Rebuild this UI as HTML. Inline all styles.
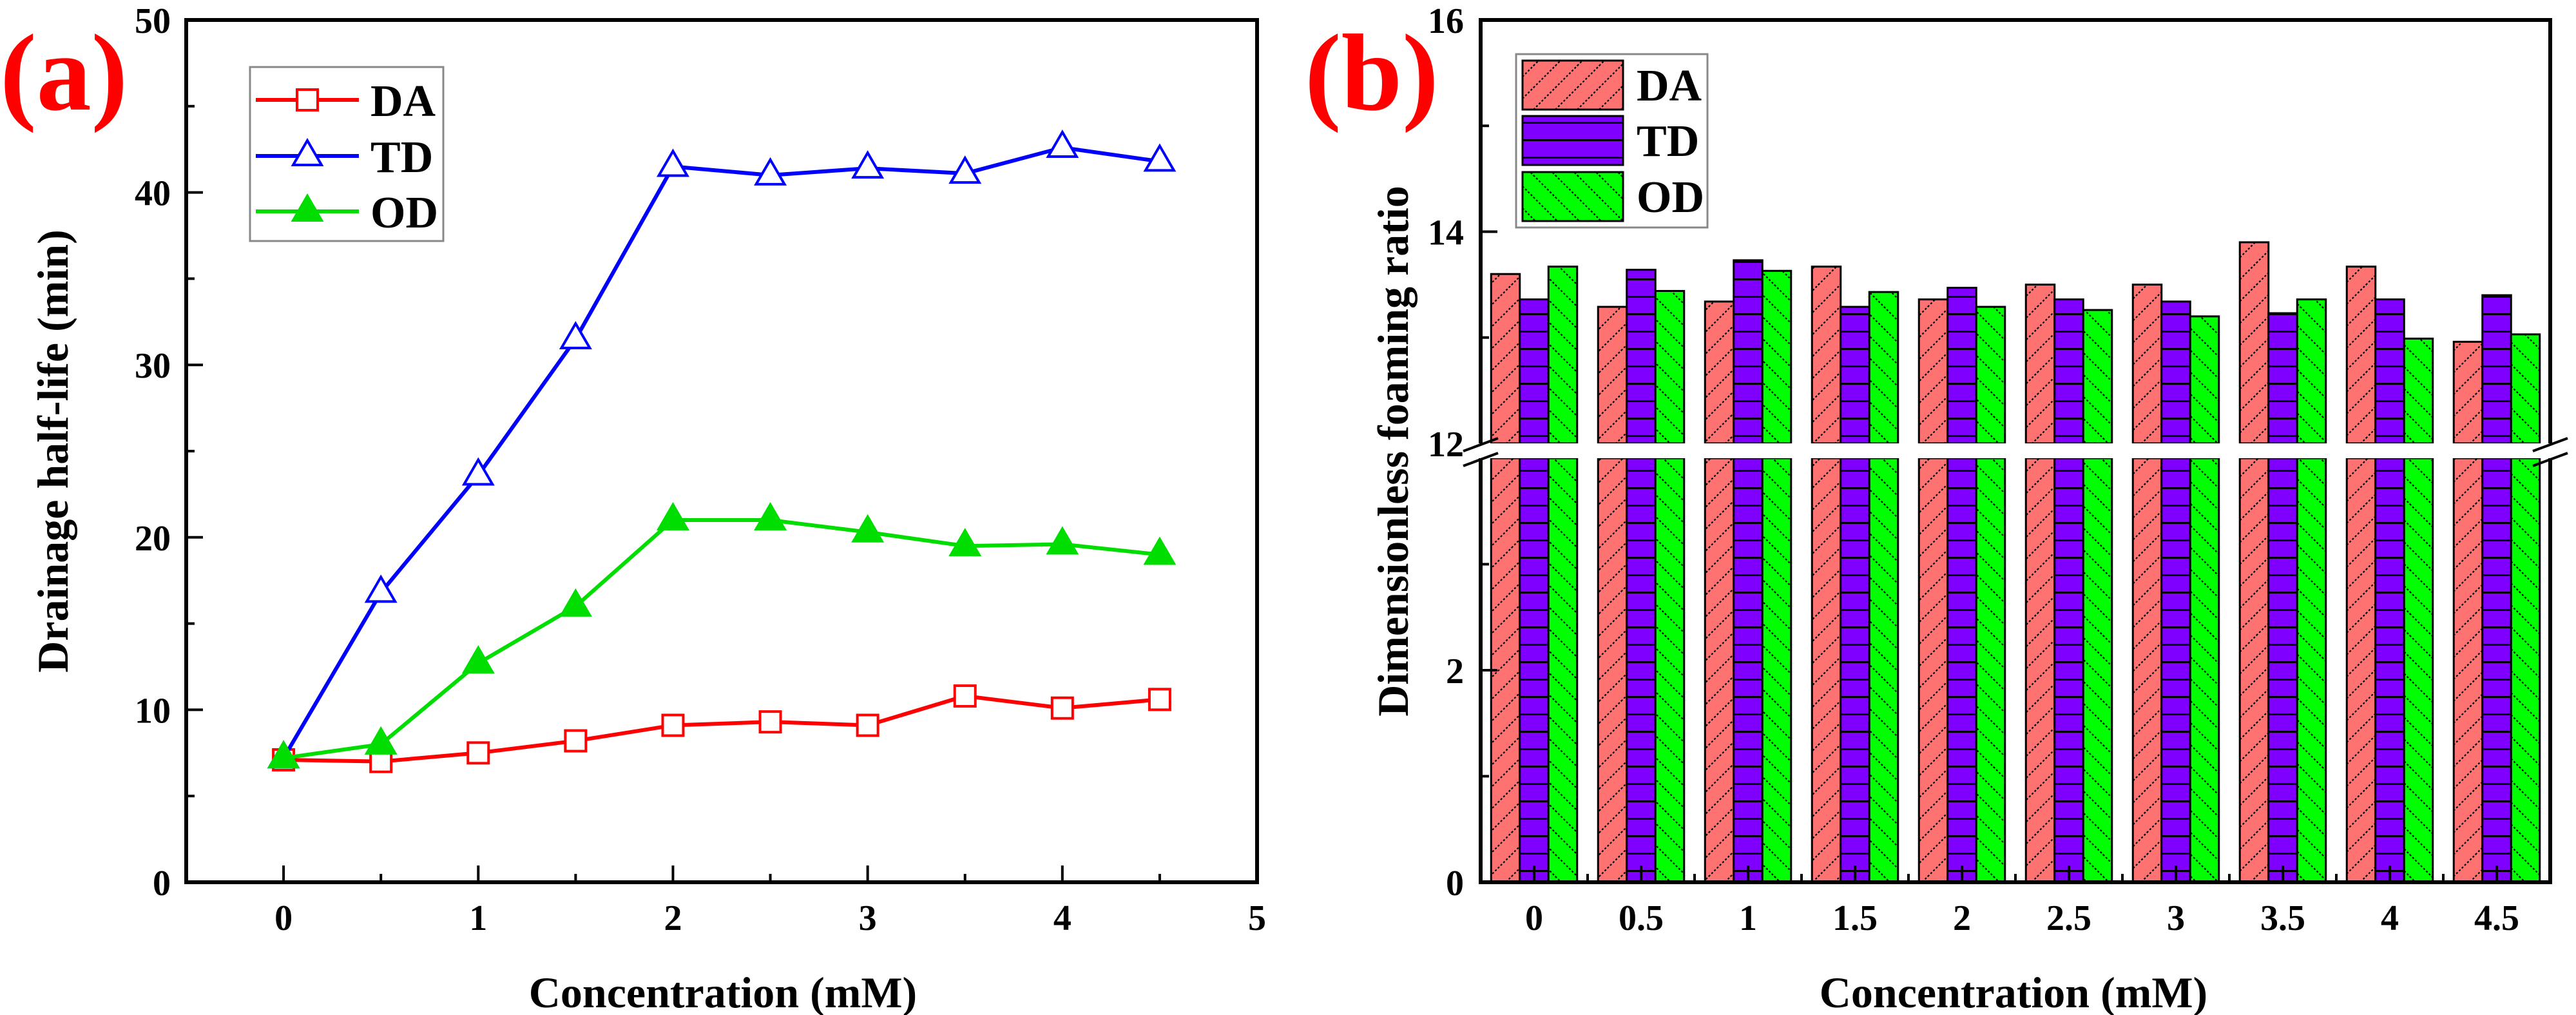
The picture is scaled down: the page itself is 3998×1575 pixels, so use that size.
<!DOCTYPE html>
<html><head><meta charset="utf-8"><style>
html,body{margin:0;padding:0;background:#fff;}
svg{display:block;font-family:"Liberation Serif",serif;font-weight:bold;}
</style></head><body>
<svg id="fig" width="3998" height="1575" viewBox="0 0 3998 1575" xmlns="http://www.w3.org/2000/svg">
<defs>
<pattern id="pDA" patternUnits="userSpaceOnUse" width="34" height="34"><rect width="34" height="34" fill="#ff7272"/><path d="M0 34 L34 0 M-10 10 L10 -10 M24 44 L44 24" stroke="#000" stroke-width="2.2" stroke-dasharray="3 3"/></pattern>
<pattern id="pTD" patternUnits="userSpaceOnUse" width="40" height="27"><rect width="40" height="27" fill="#8000ff"/><line x1="0" y1="1.5" x2="40" y2="1.5" stroke="#000" stroke-width="3"/></pattern>
<pattern id="pOD" patternUnits="userSpaceOnUse" width="34" height="34"><rect width="34" height="34" fill="#00ff00"/><path d="M0 0 L34 34 M-10 24 L10 44 M24 -10 L44 10" stroke="#000" stroke-width="2.2" stroke-dasharray="3 3"/></pattern>
</defs>
<g id="a"></g>
<g id="b"></g>
</svg>
<script>
const NS="http://www.w3.org/2000/svg";
// Panel (a) data
const concA=[0,0.5,1,1.5,2,2.5,3,3.5,4,4.5];
const daA=[7.1,7.0,7.5,8.2,9.1,9.3,9.1,10.8,10.1,10.6];
const tdA=[7.2,16.8,23.6,31.5,41.5,41.0,41.4,41.1,42.6,41.8];
const odA=[7.2,8.0,12.7,16.0,21.0,21.0,20.3,19.5,19.6,19.0];
const xTicksA=[0,1,2,3,4,5];
const yTicksA=[0,10,20,30,40,50];
// Panel (b) data
const catsB=["0","0.5","1","1.5","2","2.5","3","3.5","4","4.5"];
const daB=[13.60,13.29,13.34,13.67,13.36,13.50,13.50,13.90,13.67,12.96];
const tdB=[13.36,13.64,13.73,13.29,13.47,13.36,13.34,13.23,13.36,13.40];
const odB=[13.67,13.44,13.63,13.43,13.29,13.26,13.20,13.36,12.99,13.03];
const yTicksBLow=[0,2];
const yTicksBHigh=[12,14,16];

function el(tag,attrs,parent,txt){const e=document.createElementNS(NS,tag);for(const k in attrs)e.setAttribute(k,attrs[k]);if(txt!==undefined)e.textContent=txt;parent.appendChild(e);return e;}

// ---------- Panel A ----------
const A=document.getElementById('a');
const aL=289,aR=1951,aT=31,aB=1369;
const xa=v=>aL+(v+0.5)/5.5*(aR-aL);
const ya=v=>aB-v/50*(aB-aT);
let t=el('text',{x:0,y:170,'font-size':170,fill:'#f00'},A,'(a)');

for(let v=0;v<=4.5;v+=0.5){const maj=Number.isInteger(v);el('line',{x1:xa(v),x2:xa(v),y1:aB,y2:aB-(maj?26:13),stroke:'#000','stroke-width':4},A);}
for(let v=5;v<50;v+=5){const maj=v%10===0;el('line',{x1:aL,x2:aL+(maj?26:13),y1:ya(v),y2:ya(v),stroke:'#000','stroke-width':4},A);}
xTicksA.forEach(v=>{const e=el('text',{x:xa(v),y:1443,'font-size':56,'text-anchor':'middle'},A,String(v));});
yTicksA.forEach(v=>{const e=el('text',{x:265,y:ya(v)+20,'font-size':56,'text-anchor':'end'},A,String(v));});
t=el('text',{x:1122,y:1563,'font-size':68,'text-anchor':'middle'},A,'Concentration (mM)');

t=el('text',{x:0,y:0,'font-size':68,'text-anchor':'middle',transform:'translate(105,700) rotate(-90)'},A,'Drainage half-life (min)');


function sq(x,y,c,p){return el('rect',{x:x-16,y:y-16,width:32,height:32,fill:'#fff',stroke:c,'stroke-width':4},p);}
function tri(x,y,c,fill,p){return el('polygon',{points:`${x},${y-24} ${x-22},${y+14} ${x+22},${y+14}`,fill:fill,stroke:c,'stroke-width':4},p);}
const seriesA=[{n:'DA',d:daA,c:'#ff0000',m:'sq'},{n:'TD',d:tdA,c:'#0000ff',m:'to'},{n:'OD',d:odA,c:'#00dd00',m:'tf'}];
seriesA.forEach(s=>{
  const g=el('g',{},A);
  
  const pts=s.d.map((v,i)=>xa(concA[i])+','+ya(v)).join(' ');
  el('polyline',{points:pts,fill:'none',stroke:s.c,'stroke-width':6},g);
  s.d.forEach((v,i)=>{const x=xa(concA[i]),y=ya(v);let m;
    if(s.m==='sq')m=sq(x,y,s.c,g);else if(s.m==='to')m=tri(x,y,s.c,'#fff',g);else m=tri(x,y,'#00dd00','#00dd00',g);
    });
});
el('rect',{x:aL,y:aT,width:aR-aL,height:aB-aT,fill:'none',stroke:'#000','stroke-width':6},A);
const lgA=el('g',{},A);
el('rect',{x:388,y:104,width:300,height:270,fill:'#fff',stroke:'#888','stroke-width':3},lgA);
[155,242,328].forEach((y,i)=>{const s=seriesA[i];
  const g=el('g',{},lgA);
  el('line',{x1:397,x2:557,y1:y,y2:y,stroke:s.c,'stroke-width':6},g);
  if(s.m==='sq')sq(477,y,s.c,g);else if(s.m==='to')tri(477,y,s.c,'#fff',g);else tri(477,y,'#00dd00','#00dd00',g);
  el('text',{x:575,y:y+25,'font-size':70},g,s.n);
});

// ---------- Panel B ----------
const B=document.getElementById('b');
const bL=2298,bR=3958,bT=31,bB=1369,gTop=688,gBot=711;
const xb=i=>bL+(i+0.5)*166;
const yLow=v=>bB-v/4*(bB-gBot);
const yHigh=v=>gTop-(v-12)/4*(gTop-bT);
t=el('text',{x:2025,y:170,'font-size':170,fill:'#f00'},B,'(b)');

const seriesB=[{n:'DA',d:daB,f:'url(#pDA)'},{n:'TD',d:tdB,f:'url(#pTD)'},{n:'OD',d:odB,f:'url(#pOD)'}];
const bw=44.5;
catsB.forEach((c,i)=>{
  seriesB.forEach((s,k)=>{
    const x=xb(i)+(k-1.5)*bw;
    const g=el('g',{},B);
    
    
    el('rect',{x:x,y:gBot,width:bw,height:bB-gBot,fill:s.f,stroke:'#000','stroke-width':3},g);
    el('rect',{x:x,y:yHigh(s.d[i]),width:bw,height:gTop-yHigh(s.d[i]),fill:s.f,stroke:'#000','stroke-width':3},g);
  });
});
// gap band
el('rect',{x:bL-4,y:gTop,width:bR-bL+8,height:gBot-gTop,fill:'#fff'},B);
// axes frame (broken)
el('path',{d:`M${bL},${gTop} L${bL},${bT} L${bR},${bT} L${bR},${gTop} M${bL},${gBot} L${bL},${bB} L${bR},${bB} L${bR},${gBot}`,fill:'none',stroke:'#000','stroke-width':6},B);
[bL,bR].forEach(x=>{el('line',{x1:x-27,y1:gTop+12,x2:x+27,y2:gTop-8,stroke:'#000','stroke-width':4},B);el('line',{x1:x-27,y1:gBot+12,x2:x+27,y2:gBot-8,stroke:'#000','stroke-width':4},B);});
// ticks
catsB.forEach((c,i)=>{el('line',{x1:xb(i),x2:xb(i),y1:bB,y2:bB-26,stroke:'#000','stroke-width':4},B);el('line',{x1:xb(i)+83,x2:xb(i)+83,y1:bB,y2:bB-13,stroke:'#000','stroke-width':4},B);});
[1,2,3].forEach(v=>el('line',{x1:bL,x2:bL+(v%2?13:26),y1:yLow(v),y2:yLow(v),stroke:'#000','stroke-width':4},B));
[13,14,15].forEach(v=>el('line',{x1:bL,x2:bL+(v%2?13:26),y1:yHigh(v),y2:yHigh(v),stroke:'#000','stroke-width':4},B));
yTicksBLow.forEach(v=>{const e=el('text',{x:2272,y:yLow(v)+20,'font-size':56,'text-anchor':'end'},B,String(v));});
yTicksBHigh.forEach(v=>{const e=el('text',{x:2272,y:yHigh(v)+20,'font-size':56,'text-anchor':'end'},B,String(v));});
catsB.forEach((c,i)=>{const e=el('text',{x:xb(i),y:1443,'font-size':56,'text-anchor':'middle'},B,c);});
t=el('text',{x:3125,y:1563,'font-size':68,'text-anchor':'middle'},B,'Concentration (mM)');

t=el('text',{x:0,y:0,'font-size':68,'text-anchor':'middle',transform:'translate(2185,700) rotate(-90)'},B,'Dimensionless foaming ratio');

const lgB=el('g',{},B);
el('rect',{x:2353,y:84,width:297,height:269,fill:'#fff',stroke:'#888','stroke-width':3},lgB);
[94,180,267].forEach((y,i)=>{const s=seriesB[i];
  const g=el('g',{},lgB);
  el('rect',{x:2363,y:y,width:156,height:76,fill:s.f,stroke:'#000','stroke-width':3},g);
  el('text',{x:2540,y:y+62,'font-size':70},g,s.n);
});
</script>
</body></html>
